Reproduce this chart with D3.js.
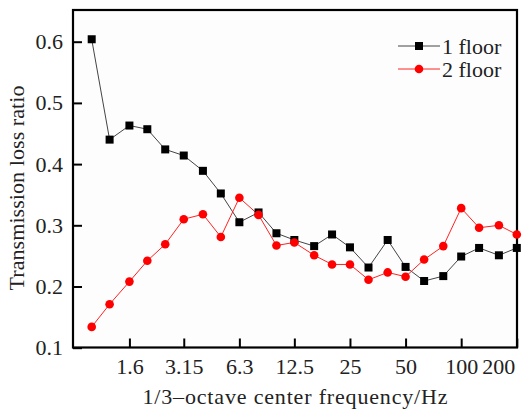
<!DOCTYPE html>
<html>
<head>
<meta charset="utf-8">
<script src="https://cdn.jsdelivr.net/npm/d3@7"></script>
<style>
  body { margin: 0; background: #fff; }
  text { font-family: "Liberation Serif", "DejaVu Serif", serif; fill: #222; }
</style>
</head>
<body>
<div class="chart"></div>
<script>
var width = 527;
var height = 410;
var plot = {left: 73, right: 517, top: 10, bottom: 347.5};

// 1/3-octave band centre frequencies (Hz)
var freqs = [1, 1.25, 1.6, 2, 2.5, 3.15, 4, 5, 6.3, 8, 10, 12.5, 16, 20, 25, 31.5, 40, 50, 63, 80, 100, 125, 160, 200];
var floor1 = [0.604, 0.440, 0.463, 0.457, 0.424, 0.414, 0.389, 0.352, 0.305, 0.321, 0.287, 0.276,
              0.266, 0.285, 0.264, 0.231, 0.276, 0.232, 0.209, 0.217, 0.249, 0.263, 0.251, 0.263];
var floor2 = [0.134, 0.171, 0.208, 0.242, 0.269, 0.310, 0.318, 0.281, 0.345, 0.317, 0.267, 0.272,
              0.251, 0.236, 0.236, 0.211, 0.223, 0.216, 0.244, 0.266, 0.328, 0.296, 0.300, 0.285];
var xTicks = [1.6, 3.15, 6.3, 12.5, 25, 50, 100, 200];
var yTicks = [0.1, 0.2, 0.3, 0.4, 0.5, 0.6];
var seriesNames = ['1 floor', '2 floor'];

var xScale = d3.scaleLog()
    .domain([1, 200])
    .range([91.7, 516.8]);

var yScale = d3.scaleLinear()
    .domain([0.1, 0.6])
    .range([347.7, 41.7]);

var svg = d3.select('.chart').append('svg')
    .attr('width', width)
    .attr('height', height);

svg.append('rect')
    .attr('x', plot.left)
    .attr('y', plot.top)
    .attr('width', plot.right - plot.left)
    .attr('height', plot.bottom - plot.top)
    .attr('fill', '#fdfdfd');

function styleAxis(g) {
    g.select('.domain').remove();
    g.selectAll('.tick line').attr('stroke', '#000').attr('stroke-width', 2);
    g.selectAll('.tick text')
        .attr('fill', '#222')
        .style('font-family', '"Liberation Serif", serif')
        .style('font-size', '22px');
}

svg.append('g')
    .attr('class', 'axis axis--x')
    .attr('transform', `translate(0,${plot.bottom})`)
    .call(d3.axisBottom(xScale)
        .tickValues(xTicks)
        .tickFormat(d => String(d))
        .tickSizeInner(-9)
        .tickSizeOuter(0)
        .tickPadding(11))
    .call(styleAxis);

// last label sits left of the frame edge
svg.selectAll('.axis--x .tick text')
    .filter(d => d === 200)
    .attr('text-anchor', 'end')
    .attr('x', -2);

svg.append('g')
    .attr('class', 'axis axis--y')
    .attr('transform', `translate(${plot.left},0)`)
    .call(d3.axisLeft(yScale)
        .tickValues(yTicks)
        .tickFormat(d3.format('.1f'))
        .tickSizeInner(-9)
        .tickSizeOuter(0)
        .tickPadding(10))
    .call(styleAxis);

// frame
svg.append('rect')
    .attr('x', plot.left)
    .attr('y', plot.top)
    .attr('width', plot.right - plot.left)
    .attr('height', plot.bottom - plot.top)
    .attr('fill', 'none')
    .attr('stroke', '#000')
    .attr('stroke-width', 2.2);

var line = d3.line()
    .x((d, i) => xScale(freqs[i]))
    .y(d => yScale(d));

svg.append('path')
    .datum(floor1)
    .attr('d', line)
    .attr('fill', 'none')
    .attr('stroke', '#444')
    .attr('stroke-width', 1);

svg.append('path')
    .datum(floor2)
    .attr('d', line)
    .attr('fill', 'none')
    .attr('stroke', '#f22')
    .attr('stroke-width', 1);

svg.selectAll('.sq')
    .data(floor1)
    .enter().append('rect')
    .attr('class', 'sq')
    .attr('x', (d, i) => xScale(freqs[i]) - 4)
    .attr('y', d => yScale(d) - 4)
    .attr('width', 8)
    .attr('height', 8)
    .attr('fill', '#000');

svg.selectAll('.dot')
    .data(floor2)
    .enter().append('circle')
    .attr('class', 'dot')
    .attr('cx', (d, i) => xScale(freqs[i]))
    .attr('cy', d => yScale(d))
    .attr('r', 4.3)
    .attr('fill', '#f00');

// legend
var legend = svg.append('g').attr('class', 'legend');
var rows = legend.selectAll('g')
    .data(seriesNames)
    .enter().append('g')
    .attr('transform', (d, i) => `translate(398,${46 + i * 23})`);

rows.append('line')
    .attr('x1', 0)
    .attr('x2', 42)
    .attr('stroke', (d, i) => i === 0 ? '#444' : '#f22')
    .attr('stroke-width', 1);

rows.filter((d, i) => i === 0).append('rect')
    .attr('x', 17).attr('y', -4)
    .attr('width', 8).attr('height', 8)
    .attr('fill', '#000');

rows.filter((d, i) => i === 1).append('circle')
    .attr('cx', 21).attr('r', 4.3)
    .attr('fill', '#f00');

rows.append('text')
    .attr('x', 44)
    .attr('dy', '0.35em')
    .style('font-size', '22px')
    .text(d => d);

// axis titles
svg.append('text')
    .attr('x', 295)
    .attr('y', 404)
    .attr('text-anchor', 'middle')
    .attr('textLength', 305)
    .attr('lengthAdjust', 'spacing')
    .style('font-size', '22px')
    .text('1/3\u2013octave center frequency/Hz');

svg.append('text')
    .attr('transform', 'translate(24,188) rotate(-90)')
    .attr('text-anchor', 'middle')
    .attr('textLength', 205)
    .attr('lengthAdjust', 'spacing')
    .style('font-size', '22px')
    .text('Transmission loss ratio');
</script>
</body>
</html>
